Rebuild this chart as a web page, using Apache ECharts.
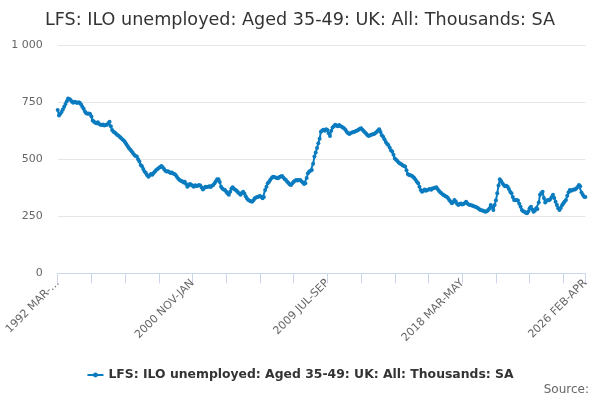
<!DOCTYPE html>
<html><head><meta charset="utf-8">
<script src="https://cdn.jsdelivr.net/npm/echarts@6/dist/echarts.min.js"></script>
<style>html,body{margin:0;padding:0;background:#fff}#c{width:600px;height:400px}</style>
</head><body><div id="c"></div>
<script>
const title = 'LFS: ILO unemployed: Aged 35-49: UK: All: Thousands: SA';
const seriesName = 'LFS: ILO unemployed: Aged 35-49: UK: All: Thousands: SA';
const monthNames = ['JAN','FEB','MAR','APR','MAY','JUN','JUL','AUG','SEP','OCT','NOV','DEC'];
const startYear = 1992;
const startMonth = 2; // MAR
const pointCount = 408;
const yTicks = [0, 250, 500, 750, 1000];
const values = [
  716, 692, 700, 708, 718, 730, 742, 755, 767,
  764, 760, 752, 748,
  752, 750, 747, 750, 748,
  740, 731, 722, 710, 702,
  700, 701, 699, 688,
  670, 665, 660, 658,
  662, 655, 652, 650,
  653, 648, 650, 652, 658, 665,
  645, 628, 621, 618, 612, 607, 603,
  598, 592, 587, 582, 575, 566, 557, 548,
  542, 535, 528, 520, 514, 512, 500, 490,
  475, 470, 458, 446, 440, 430, 424,
  430, 436, 432, 440, 446, 453,
  458, 462, 466, 471,
  465, 458, 450, 446, 448, 444, 440, 442,
  438, 436, 431, 422, 415, 409,
  406, 404, 398, 402, 392, 380,
  385, 392, 388, 384, 380, 386, 383,
  384, 387, 385, 376, 368,
  374, 380, 378, 380, 382, 378, 384, 387,
  395, 404, 412, 412, 400, 380, 372,
  368, 365, 358, 350, 344,
  358, 372, 377, 370, 366,
  362, 355, 350, 344, 352, 358,
  350, 338, 328, 322, 318, 316, 314,
  320, 329, 332, 335, 337, 339,
  335, 329, 335, 365,
  380, 395, 402, 410, 418, 424,
  422, 420, 418, 417, 422, 425, 427,
  420, 414, 409, 402, 396, 390, 387,
  395, 402, 406, 409, 407, 409,
  409, 404, 398, 392, 395, 418,
  439, 446, 450, 453, 480, 512,
  530, 550, 570, 590, 621,
  626, 630, 625, 632, 628, 614, 602,
  625, 640, 645, 651,
  648, 645, 650, 646, 643,
  640, 635, 628, 620, 614, 611,
  615, 618, 620, 621,
  624, 626, 630, 634, 636,
  630, 624, 618, 612, 606, 602,
  605, 608, 610, 611,
  615, 620, 626, 632,
  620, 605, 599, 588, 576,
  568, 563, 552, 540, 534,
  520, 504, 498, 492, 486, 482,
  478, 474, 471, 468,
  452, 436, 431, 430, 428, 424,
  418, 410, 402, 395,
  380, 365, 358,
  362, 368, 362, 365,
  368, 370, 366, 372, 373, 375, 377,
  370, 362, 356, 351,
  346, 342, 338, 336,
  330, 322, 315, 307,
  312, 322, 315, 305, 300,
  304, 306, 302, 304,
  308, 314, 306, 302, 300,
  298, 296, 294, 292,
  290, 286, 282, 278,
  276, 274, 272, 270,
  272, 278, 284, 300, 290, 278,
  300, 320, 351, 385, 412,
  405, 395, 387, 382, 384, 380,
  370, 358, 351, 335, 322,
  320, 322, 319, 305, 292, 278,
  272, 270, 266, 263,
  272, 285, 292, 280, 270,
  274, 285, 282, 310, 344,
  352, 358, 330, 310,
  318, 322, 320, 326, 335, 344,
  330, 314, 300, 285, 278,
  286, 298, 307, 315, 322,
  340, 355, 365, 362, 365, 368,
  368, 372, 378, 387,
  382, 354, 345, 336, 335
];
const categories = [];
for (let i = 0; i < pointCount; i++) {
  const m = startMonth + i;
  const y = startYear + Math.floor(m / 12);
  categories.push(y + ' ' + monthNames[m % 12] + '-' + monthNames[(m + 2) % 12]);
}
const lastIdx = pointCount - 1;
const chart = echarts.init(document.getElementById('c'), null, {renderer: 'canvas'});
chart.setOption({
  animation: false,
  backgroundColor: '#ffffff',
  title: {
    text: title, left: 'center', top: 6,
    textStyle: {fontFamily: 'DejaVu Sans', fontSize: 17.6, fontWeight: 'normal', color: '#333333'}
  },
  legend: {
    bottom: 14, left: 'center', itemWidth: 16, itemHeight: 6, itemGap: 8,
    textStyle: {fontFamily: 'DejaVu Sans', fontSize: 12.4, fontWeight: 'bold', color: '#333333'},
    data: [seriesName]
  },
  graphic: [{
    type: 'text', right: 11, bottom: 4,
    style: {text: 'Source:', fontFamily: 'DejaVu Sans', fontSize: 12, fill: '#666666'}
  }],
  grid: {left: 57.7, right: 14.6, top: 45.3, bottom: 126.7, containLabel: false},
  xAxis: {
    type: 'category', data: categories, boundaryGap: false,
    axisLine: {lineStyle: {color: '#ccd6eb'}},
    axisTick: {length: 10, lineStyle: {color: '#ccd6eb'}, interval: (i) => i % 26 === 0 || i === lastIdx},
    axisLabel: {
      rotate: 45, color: '#666666', fontFamily: 'DejaVu Sans', fontSize: 11, margin: 8,
      interval: (i) => i % 104 === 0 || i === lastIdx,
      formatter: (v, i) => i === 0 ? v.slice(0, 9) + '…' : v
    },
    splitLine: {show: false}
  },
  yAxis: {
    type: 'value', min: yTicks[0], max: yTicks[yTicks.length - 1], interval: 250,
    axisLine: {show: false}, axisTick: {show: false},
    axisLabel: {color: '#666666', fontFamily: 'DejaVu Sans', fontSize: 11, margin: 15,
      formatter: (v) => String(v).replace(/\B(?=(\d{3})+(?!\d))/g, ' ')},
    splitLine: {lineStyle: {color: '#e6e6e6'}}
  },
  series: [{
    name: seriesName, type: 'line', data: values,
    color: '#0a7bbf',
    lineStyle: {width: 2, color: '#0a7bbf'},
    symbol: 'circle', symbolSize: 4, showAllSymbol: true,
    itemStyle: {color: '#0a7bbf'}
  }]
});
</script></body></html>
